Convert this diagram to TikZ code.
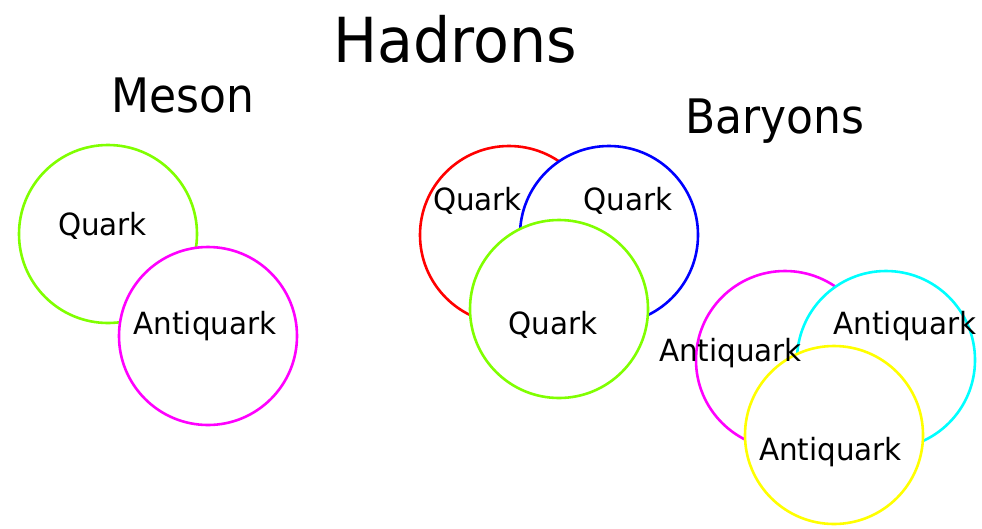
\documentclass[tikz,border=0pt]{standalone}
\usepackage{fontspec}
\setmainfont{DejaVu Sans}
\definecolor{qgreen}{RGB}{128,255,0}
\definecolor{qmagenta}{RGB}{255,0,255}
\definecolor{qred}{RGB}{255,0,0}
\definecolor{qblue}{RGB}{0,0,255}
\definecolor{qcyan}{RGB}{0,255,255}
\definecolor{qyellow}{RGB}{255,255,0}
\begin{document}
\begin{tikzpicture}[x=1pt,y=-1pt,
  particle/.style={circle,draw=#1,fill=white,line width=2.6pt,minimum size=178pt,inner sep=0pt},
  plabel/.style={anchor=base,inner sep=0pt,yscale=1.04,font=\fontsize{29.4}{30}\selectfont},
  title/.style={anchor=base,inner sep=0pt,yscale=1.08,font=\fontsize{44}{46}\selectfont},
  bigtitle/.style={anchor=base,inner sep=0pt,yscale=1.06,font=\fontsize{58.6}{60}\selectfont}]
\useasboundingbox[fill=white] (0,0) rectangle (982,528);

% titles
\node[bigtitle] (hadrons) at (455.5,62) {Hadrons};
\node[title] (meson) at (182.5,112) {Meson};
\node[title] (baryons) at (775,133) {Baryons};

% meson: quark + antiquark
\node[particle=qgreen] (mq) at (108,234) {};
\node[particle=qmagenta] (maq) at (208,336) {};

% baryon: three quarks
\node[particle=qred] (bq1) at (509,235) {};
\node[particle=qblue] (bq2) at (609,235) {};
\node[particle=qgreen] (bq3) at (559,309) {};

% antibaryon: three antiquarks
\node[particle=qmagenta] (ba1) at (785,360) {};
\node[particle=qcyan] (ba2) at (886,360) {};
\node[particle=qyellow] (ba3) at (834,435) {};

% labels on top of the circles
\node[plabel] (mqt) at (102.5,235) {Quark};
\node[plabel] (maqt) at (205,334) {Antiquark};
\node[plabel] (bq1t) at (477.5,210) {Quark};
\node[plabel] (bq2t) at (628,210) {Quark};
\node[plabel] (bq3t) at (553,334) {Quark};
\node[plabel] (ba1t) at (730.5,361) {Antiquark};
\node[plabel] (ba2t) at (905,334) {Antiquark};
\node[plabel] (ba3t) at (830.5,460) {Antiquark};
\end{tikzpicture}
\end{document}
